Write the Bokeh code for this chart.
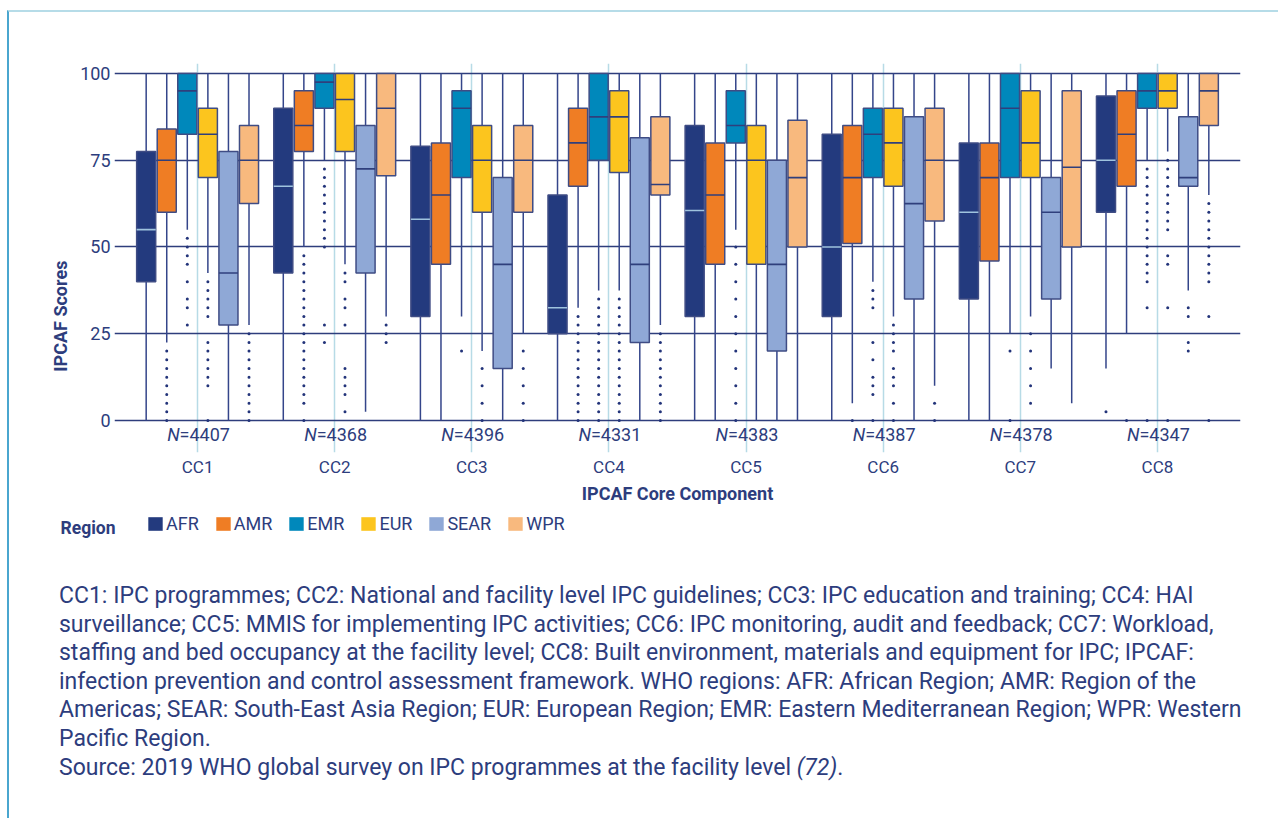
from bokeh.plotting import figure
from bokeh.models import (FixedTicker, Legend, LegendItem, Label, Div,
                          ColumnDataSource, Range1d)
from bokeh.layouts import column
from bokeh.embed import file_html
from bokeh.resources import INLINE
from bokeh.core.properties import value

# ---------------- data ----------------
components = ["CC1", "CC2", "CC3", "CC4", "CC5", "CC6", "CC7", "CC8"]
sample_sizes = ["4407", "4368", "4396", "4331", "4383", "4387", "4378", "4347"]
regions = ["AFR", "AMR", "EMR", "EUR", "SEAR", "WPR"]
region_colors = ["#233a7e", "#ef7d24", "#0088bb", "#fcc51e", "#8fa8d6", "#f8b97e"]
median_colors = ["#9fc3de", "#2f3f7c", "#2f3f7c", "#2f3f7c", "#2f3f7c", "#2f3f7c"]

lower_whisker = {
    "AFR":  [0, 0, 0, 0, 0, 0, 0, 15],
    "AMR":  [22.5, 50, 0, 32.5, 0, 5, 0, 25],
    "EMR":  [55, 75, 30, 37.5, 55, 40, 25, 75],
    "EUR":  [42.5, 45, 20, 37.5, 0, 30, 30, 77.5],
    "SEAR": [0, 2.5, 0, 0, 0, 0, 15, 37.5],
    "WPR":  [27.5, 30, 25, 27.5, 0, 10, 5, 65],
}
q1 = {
    "AFR":  [40, 42.5, 30, 25, 30, 30, 35, 60],
    "AMR":  [60, 77.5, 45, 67.5, 45, 51, 46, 67.5],
    "EMR":  [82.5, 90, 70, 75, 80, 70, 70, 90],
    "EUR":  [70, 77.5, 60, 71.5, 45, 67.5, 70, 90],
    "SEAR": [27.5, 42.5, 15, 22.5, 20, 35, 35, 67.5],
    "WPR":  [62.5, 70.5, 60, 65, 50, 57.5, 50, 85],
}
median = {
    "AFR":  [55, 67.5, 58, 32.5, 60.5, 50, 60, 75],
    "AMR":  [75, 85, 65, 80, 65, 70, 70, 82.5],
    "EMR":  [95, 97.5, 90, 87.5, 85, 82.5, 90, 95],
    "EUR":  [82.5, 92.5, 75, 87.5, 75, 80, 80, 95],
    "SEAR": [42.5, 72.5, 45, 45, 45, 62.5, 60, 70],
    "WPR":  [75, 90, 75, 68, 70, 75, 73, 95],
}
q3 = {
    "AFR":  [77.5, 90, 79, 65, 85, 82.5, 80, 93.5],
    "AMR":  [84, 95, 80, 90, 80, 85, 80, 95],
    "EMR":  [100, 100, 95, 100, 95, 90, 100, 100],
    "EUR":  [90, 100, 85, 95, 85, 90, 95, 100],
    "SEAR": [77.5, 85, 70, 81.5, 75, 87.5, 70, 87.5],
    "WPR":  [85, 100, 85, 87.5, 86.5, 90, 95, 100],
}
upper_whisker = {
    "AFR":  [100, 100, 100, 100, 100, 100, 100, 100],
    "AMR":  [100, 100, 100, 100, 100, 100, 100, 100],
    "EMR":  [100, 100, 100, 100, 100, 100, 100, 100],
    "EUR":  [100, 100, 100, 100, 100, 100, 100, 100],
    "SEAR": [100, 100, 100, 100, 100, 100, 100, 100],
    "WPR":  [100, 100, 100, 100, 100, 100, 100, 100],
}
outliers = {
    "AFR": [[], [], [], [], [], [], [], [2.5]],
    "AMR": [
        [20, 17.5, 15, 12.5, 10, 7.5, 5, 2.5, 0],
        [47.5, 45, 42.5, 40, 37.5, 35, 32.5, 30, 27.5, 25, 22.5, 20, 17.5, 15, 12.5, 10, 7.5, 5, 0],
        [],
        [30, 27.5, 25, 22.5, 20, 17.5, 15, 12.5, 10, 7.5, 5, 2.5, 0],
        [],
        [0],
        [],
        [0],
    ],
    "EMR": [
        [52.5, 50, 47.5, 45, 40, 35, 32.5, 27.5],
        [72.5, 70, 67.5, 65, 62.5, 60, 57.5, 55, 52.5, 50, 27.5, 22.5],
        [20],
        [35, 32.5, 30, 27.5, 25, 22.5, 20, 17.5, 15, 12.5, 10, 7.5, 5, 2.5, 0],
        [50, 45, 40, 35, 30, 25, 20, 15, 10, 5, 0],
        [37.5, 35, 32.5, 22.5, 17.5, 12.5, 10, 7.5, 0],
        [20, 0],
        [72.5, 70, 67.5, 65, 62.5, 60, 57.5, 55, 52.5, 50, 47.5, 45, 42.5, 40, 32.5, 0],
    ],
    "EUR": [
        [40, 37.5, 35, 32.5, 30, 22.5, 20, 17.5, 15, 12.5, 10, 0],
        [42.5, 40, 35, 32.5, 27.5, 15, 12.5, 10, 7.5, 2.5],
        [15, 10, 5, 0],
        [35, 32.5, 30, 27.5, 25, 22.5, 20, 17.5, 15, 12.5, 10, 7.5, 5, 2.5, 0],
        [],
        [27.5, 25, 22.5, 20, 15, 12.5, 10, 5, 0],
        [25, 20, 15, 10, 5],
        [75, 72.5, 70, 67.5, 65, 62.5, 60, 57.5, 55, 47.5, 45, 32.5, 0],
    ],
    "SEAR": [[], [], [], [], [], [], [], [32.5, 30, 22.5, 20]],
    "WPR": [
        [25, 22.5, 20, 17.5, 15, 12.5, 10, 7.5, 5, 2.5, 0],
        [27.5, 25, 22.5],
        [20, 15, 10, 5, 0],
        [25, 22.5, 20, 17.5, 15, 12.5, 10, 7.5, 5, 2.5, 0],
        [],
        [5, 0],
        [],
        [62.5, 60, 57.5, 55, 52.5, 50, 47.5, 45, 42.5, 40, 30, 0],
    ],
}

caption_lines = [
    "CC1: IPC programmes; CC2: National and facility level IPC guidelines; CC3: IPC education and training; CC4: HAI",
    "surveillance; CC5: MMIS for implementing IPC activities; CC6: IPC monitoring, audit and feedback; CC7: Workload,",
    "staffing and bed occupancy at the facility level; CC8: Built environment, materials and equipment for IPC; IPCAF:",
    "infection prevention and control assessment framework. WHO regions: AFR: African Region; AMR: Region of the",
    "Americas; SEAR: South-East Asia Region; EUR: European Region; EMR: Eastern Mediterranean Region; WPR: Western",
    "Pacific Region.",
    "Source: 2019 WHO global survey on IPC programmes at the facility level <i>(72)</i>.",
]

# ---------------- style ----------------
FONT = "Roboto"
NAVY = "#2d3d7d"
GRID_NAVY = "#2e3d7c"
LIGHT_BLUE = "#b7dbe6"
SPACING = 0.15
BOX_W = 0.139
N_Y = -4.0

centers = list(range(1, len(components) + 1))

box_x, box_lo, box_q1, box_med, box_q3, box_hi, box_fill, box_medc = [], [], [], [], [], [], [], []
out_x, out_y = [], []
for j, r in enumerate(regions):
    off = (j - (len(regions) - 1) / 2) * SPACING
    for i, c in enumerate(centers):
        x = c + off
        box_x.append(x)
        box_lo.append(lower_whisker[r][i])
        box_q1.append(q1[r][i])
        box_med.append(median[r][i])
        box_q3.append(q3[r][i])
        box_hi.append(upper_whisker[r][i])
        box_fill.append(region_colors[j])
        box_medc.append(median_colors[j])
        for v in outliers[r][i]:
            out_x.append(x)
            out_y.append(v)

src = ColumnDataSource(dict(
    x=box_x, lo=box_lo, q1=box_q1, med=box_med, q3=box_q3, hi=box_hi,
    fill=box_fill, medc=box_medc,
    x0=[v - BOX_W / 2 for v in box_x], x1=[v + BOX_W / 2 for v in box_x],
))
osrc = ColumnDataSource(dict(x=out_x, y=out_y))

p = figure(width=1259, height=496,
           x_range=Range1d(0.394, 8.606), y_range=Range1d(-9.22, 102.88),
           output_backend="svg", toolbar_location=None,
           min_border_left=105, min_border_right=28,
           min_border_top=51, min_border_bottom=56,
           outline_line_color=None)

# grids
p.xgrid.ticker = FixedTicker(ticks=centers)
p.xgrid.grid_line_color = LIGHT_BLUE
p.xgrid.grid_line_width = 1.5
p.ygrid.ticker = FixedTicker(ticks=[0, 25, 50, 75, 100])
p.ygrid.grid_line_color = GRID_NAVY
p.ygrid.grid_line_width = 1.4

# whiskers, boxes, medians, outliers
p.segment(x0="x", y0="lo", x1="x", y1="hi", source=src,
          line_color="#34458a", line_width=1.5)
p.vbar(x="x", width=BOX_W, bottom="q1", top="q3", source=src,
       fill_color="fill", line_color="#3f4c84", line_width=1.5)
p.segment(x0="x0", y0="med", x1="x1", y1="med", source=src,
          line_color="medc", line_width=1.6)
p.scatter(x="x", y="y", source=osrc, size=3, marker="circle",
          fill_color="#23347a", line_color=None)

# N labels
nsrc = ColumnDataSource(dict(x=centers, y=[N_Y] * len(centers),
                             t=["=" + n for n in sample_sizes],
                             n=["N"] * len(centers)))
p.text(x="x", y="y", text="n", source=nsrc, text_align="right",
       text_baseline="middle", x_offset=-18,
       text_font=value(FONT), text_font_size="18px",
       text_font_style="italic", text_color=NAVY)
p.text(x="x", y="y", text="t", source=nsrc, text_align="left",
       text_baseline="middle", x_offset=-18,
       text_font=value(FONT), text_font_size="18px", text_color=NAVY)

# axes
p.xaxis.ticker = FixedTicker(ticks=centers)
p.xaxis.major_label_overrides = {c: comp for c, comp in zip(centers, components)}
p.xaxis.axis_line_color = None
p.xaxis.major_tick_line_color = None
p.xaxis.major_tick_out = 0
p.xaxis.major_tick_in = 0
p.xaxis.minor_tick_line_color = None
p.xaxis.major_label_standoff = 4
p.xaxis.major_label_text_font = FONT
p.xaxis.major_label_text_font_size = "17px"
p.xaxis.major_label_text_color = NAVY
p.xaxis.axis_label = "IPCAF Core Component"
p.xaxis.axis_label_standoff = 3
p.xaxis.axis_label_text_font = FONT
p.xaxis.axis_label_text_font_size = "18px"
p.xaxis.axis_label_text_font_style = "bold"
p.xaxis.axis_label_text_color = NAVY

p.yaxis.ticker = FixedTicker(ticks=[0, 25, 50, 75, 100])
p.yaxis.axis_line_color = None
p.yaxis.major_tick_line_color = None
p.yaxis.major_tick_out = 0
p.yaxis.major_tick_in = 0
p.yaxis.minor_tick_line_color = None
p.yaxis.major_label_standoff = 4
p.yaxis.major_label_text_font = FONT
p.yaxis.major_label_text_font_size = "18px"
p.yaxis.major_label_text_color = NAVY
# trailing no-break spaces shift the (centred) title down, as in the original
p.yaxis.axis_label = "IPCAF Scores" + "\u00a0" * 26
p.yaxis.axis_label_standoff = 6
p.yaxis.axis_label_text_font = FONT
p.yaxis.axis_label_text_font_size = "18px"
p.yaxis.axis_label_text_font_style = "bold"
p.yaxis.axis_label_text_color = NAVY

# ---------------- legend row ----------------
pl = figure(width=1259, height=37, x_range=Range1d(0, 1259), y_range=Range1d(0, 37),
            output_backend="svg", toolbar_location=None, min_border=0,
            outline_line_color=None, x_axis_location=None, y_axis_location=None)
pl.frame_align = False
pl.grid.visible = False
swatch = pl.vbar(x="x", width=BOX_W, bottom="q1", top="q3", source=src,
                 fill_color="fill", line_color=None, visible=False)
items = [LegendItem(label=r, renderers=[swatch], index=j * len(components))
         for j, r in enumerate(regions)]
legend = Legend(items=items, orientation="horizontal", location=(137, 11),
                glyph_width=18, glyph_height=17, label_height=17,
                label_standoff=2, spacing=15, padding=0, margin=0,
                border_line_color=None, background_fill_alpha=0,
                label_text_font=FONT, label_text_font_size="18px",
                label_text_color=NAVY)
pl.add_layout(legend)
pl.add_layout(Label(x=51, y=18, text="Region", text_font=FONT,
                    text_font_size="17.5px", text_font_style="bold",
                    text_color=NAVY, text_baseline="middle"))

# ---------------- caption ----------------
html = ('<div style="font-family: Roboto, sans-serif; font-size: 23px; '
        'line-height: 28.6px; color: #2d3d7d; padding: 32px 0 0 45px; '
        'white-space: nowrap;">' + "<br>".join(caption_lines) + '</div>')
div = Div(text=html, width=1259, height=265)

layout = column(p, pl, div, margin=(10, 0, 0, 7),
                styles={"border-top": "2px solid #b6dce8",
                        "border-left": "2px solid #4aa6cf"})

open("out.html", "w").write(file_html(layout, INLINE))
